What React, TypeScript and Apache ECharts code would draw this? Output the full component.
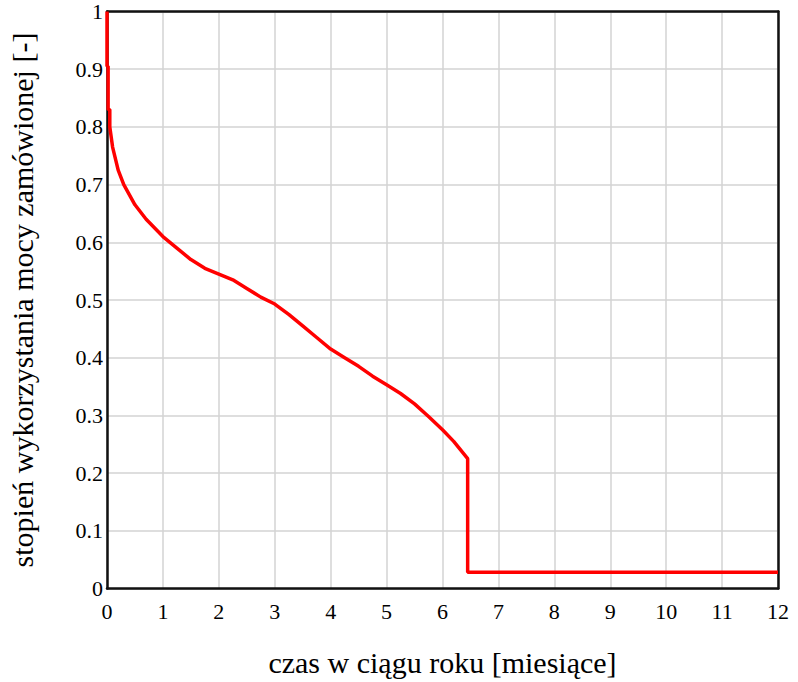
import React, { useEffect, useRef } from "react";
import * as echarts from "echarts";

const xValues = [0, 0, 0.02, 0.02, 0.05, 0.05, 0.1, 0.2, 0.3, 0.5, 0.7, 1.0, 1.25, 1.5, 1.75, 2.0, 2.25, 2.5, 2.75, 3.0, 3.25, 3.5, 3.75, 4.0, 4.25, 4.5, 4.75, 5.0, 5.25, 5.5, 5.75, 6.0, 6.2, 6.45, 6.45, 12];
const yValues = [1.0, 0.905, 0.905, 0.83, 0.83, 0.8, 0.765, 0.725, 0.7, 0.665, 0.64, 0.61, 0.59, 0.57, 0.555, 0.545, 0.535, 0.52, 0.505, 0.493, 0.475, 0.455, 0.435, 0.415, 0.4, 0.385, 0.368, 0.353, 0.338, 0.32, 0.298, 0.275, 0.255, 0.225, 0.028, 0.028];

const xTicks = [0, 1, 2, 3, 4, 5, 6, 7, 8, 9, 10, 11, 12];
const yTicks = [0, 0.1, 0.2, 0.3, 0.4, 0.5, 0.6, 0.7, 0.8, 0.9, 1];

const xTitle = "czas w ciągu roku [miesiące]";
const yTitle = "stopień wykorzystania mocy zamówionej [-]";

const FONT = "'Times New Roman', 'Liberation Serif', serif";

export default function App() {
  const ref = useRef<HTMLDivElement>(null);
  useEffect(() => {
    document.body.style.margin = "0";
    const chart = echarts.init(ref.current!, undefined, { renderer: "svg" });
    const borderAxis = {
      show: true,
      axisLine: { show: true, onZero: false, lineStyle: { color: "#111", width: 2.5 } },
      axisTick: { show: false },
      axisLabel: { show: false },
      splitLine: { show: false },
    };
    chart.setOption({
      animation: false,
      backgroundColor: "#ffffff",
      textStyle: { fontFamily: FONT, fontSize: 22, color: "#000" },
      grid: { left: 107, top: 11.5, width: 671, height: 577, outerBoundsMode: "none", containLabel: false },
      xAxis: [
        {
          type: "value", min: xTicks[0], max: xTicks[xTicks.length - 1], interval: 1,
          name: xTitle, nameLocation: "middle", nameGap: 59,
          nameTextStyle: { fontFamily: FONT, fontSize: 30, color: "#000" },
          axisLine: { show: true, onZero: false, lineStyle: { color: "#111", width: 2.5 } },
          axisTick: { show: false },
          splitLine: { show: true, lineStyle: { color: "#d3d3d3", width: 1.5 } },
          axisLabel: { show: true, fontFamily: FONT, fontSize: 22, color: "#000", margin: 12 },
        },
        { ...borderAxis, type: "value", position: "top", min: 0, max: 12 },
      ],
      yAxis: [
        {
          type: "value", min: yTicks[0], max: yTicks[yTicks.length - 1], interval: 0.1,
          name: yTitle, nameLocation: "middle", nameGap: 70,
          nameTextStyle: { fontFamily: FONT, fontSize: 30, color: "#000" },
          axisLine: { show: true, onZero: false, lineStyle: { color: "#111", width: 2.5 } },
          axisTick: { show: false },
          splitLine: { show: true, lineStyle: { color: "#d3d3d3", width: 1.5 } },
          axisLabel: {
            show: true, fontFamily: FONT, fontSize: 22, color: "#000", margin: 4,
            formatter: (v: number) => String(Math.round(v * 10) / 10),
          },
        },
        { ...borderAxis, type: "value", position: "right", min: 0, max: 1 },
      ],
      series: [
        {
          type: "line",
          data: xValues.map((x, i) => [x, yValues[i]]),
          showSymbol: false, smooth: false,
          lineStyle: { color: "#ff0000", width: 3.5 },
          clip: true, z: 1,
        },
      ],
    });
    return () => chart.dispose();
  }, []);
  return <div ref={ref} style={{ width: 798, height: 682 }} />;
}
